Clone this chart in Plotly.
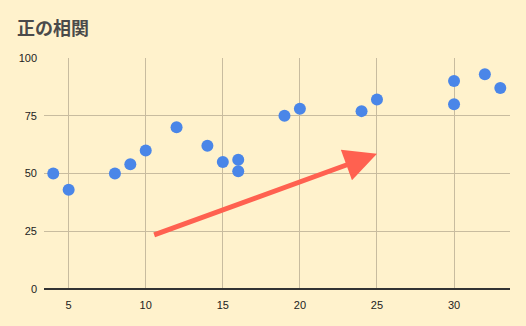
import plotly.graph_objects as go

x_vals = [4, 5, 8, 9, 10, 12, 14, 15, 16, 16, 19, 20, 24, 25, 30, 30, 32, 33]
y_vals = [50, 43, 50, 54, 60, 70, 62, 55, 56, 51, 75, 78, 77, 82, 90, 80, 93, 87]
arrow_start = (10.45, 23.2)
arrow_end = (25.0, 58.5)
x_ticks = [5, 10, 15, 20, 25, 30]
y_ticks = [0, 25, 50, 75, 100]

bg = "#fff2cc"
fig = go.Figure()
fig.add_trace(go.Scatter(x=x_vals, y=y_vals, mode="markers",
                         marker=dict(size=12, color="#4a86e8"),
                         showlegend=False, hoverinfo="x+y"))
fig.add_annotation(x=arrow_end[0], y=arrow_end[1], ax=arrow_start[0], ay=arrow_start[1],
                   xref="x", yref="y", axref="x", ayref="y", text="",
                   showarrow=True, arrowhead=2, arrowsize=1.3, arrowwidth=5,
                   arrowcolor="#ff6150")
fig.update_layout(
    width=526, height=326,
    paper_bgcolor=bg, plot_bgcolor=bg,
    margin=dict(l=44, r=16, t=58, b=37),
    title=dict(text="<b>正の相関</b>", x=17 / 526, xref="container", xanchor="left",
               y=0.913, yanchor="middle",
               font=dict(family="Noto Sans CJK JP", size=18, color="#4a4a4a")),
    font=dict(family="Arial, Liberation Sans", size=11, color="#222222"),
)
fig.update_xaxes(range=[3.4, 33.63], tickvals=x_ticks, showgrid=True, gridcolor="#c8bc9f",
                 zeroline=False, showline=False, ticks="", ticklabelstandoff=8)
fig.update_yaxes(range=[0, 100], tickvals=y_ticks, showgrid=True, gridcolor="#c8bc9f",
                 zeroline=True, zerolinecolor="#333333", zerolinewidth=1.5, showline=False, ticks="",
                 ticklabelstandoff=6)
fig.write_html("out.html")
